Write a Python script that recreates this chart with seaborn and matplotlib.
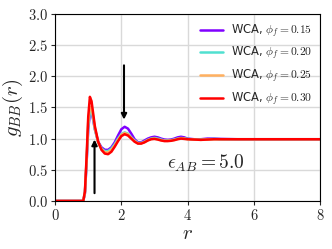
import matplotlib
matplotlib.use("Agg")
import matplotlib.pyplot as plt
import seaborn as sns
import pandas as pd
import numpy as np

# r grid shared by all curves
r = [0.0, 0.85, 0.9, 0.95, 1.0, 1.05, 1.1, 1.15, 1.2, 1.3, 1.4, 1.5, 1.6, 1.7,
     1.8, 1.9, 2.0, 2.1, 2.2, 2.3, 2.4, 2.5, 2.6, 2.7, 2.8, 2.9, 3.0, 3.1, 3.2,
     3.3, 3.4, 3.5, 3.6, 3.7, 3.8, 3.9, 4.0, 4.2, 4.4, 4.6, 4.8, 5.0, 5.5, 6.0,
     7.0, 8.0]

g_015 = [0.0, 0.0, 0.12, 0.6, 1.15, 1.4, 1.42, 1.3, 1.15, 0.95, 0.86, 0.82, 0.82,
         0.86, 0.94, 1.05, 1.15, 1.19, 1.16, 1.08, 0.99, 0.94, 0.94, 0.97, 1.0,
         1.02, 1.03, 1.02, 1.0, 0.985, 0.98, 0.985, 1.0, 1.02, 1.03, 1.02, 1.0,
         0.99, 0.99, 1.0, 1.0, 0.995, 0.99, 0.99, 0.99, 0.99]
g_020 = [0.0, 0.0, 0.13, 0.63, 1.2, 1.43, 1.45, 1.32, 1.15, 0.94, 0.84, 0.8, 0.8,
         0.84, 0.91, 1.0, 1.07, 1.1, 1.08, 1.02, 0.97, 0.93, 0.93, 0.95, 0.98,
         1.0, 1.01, 1.0, 0.985, 0.97, 0.97, 0.975, 0.985, 1.0, 1.01, 1.005, 0.995,
         0.985, 0.985, 0.99, 0.995, 0.99, 0.99, 0.99, 0.99, 0.99]
g_025 = [0.0, 0.0, 0.14, 0.66, 1.27, 1.51, 1.5, 1.35, 1.17, 0.94, 0.83, 0.78, 0.78,
         0.82, 0.89, 0.98, 1.06, 1.09, 1.07, 1.01, 0.96, 0.925, 0.925, 0.945,
         0.975, 0.995, 1.0, 0.99, 0.975, 0.965, 0.965, 0.97, 0.98, 0.995, 1.005,
         1.0, 0.99, 0.985, 0.98, 0.985, 0.99, 0.99, 0.99, 0.99, 0.99, 0.99]
g_030 = [0.0, 0.0, 0.15, 0.7, 1.35, 1.67, 1.6, 1.4, 1.2, 0.95, 0.82, 0.76, 0.75,
         0.79, 0.87, 0.96, 1.04, 1.07, 1.05, 1.0, 0.95, 0.92, 0.92, 0.94, 0.97,
         0.99, 0.995, 0.985, 0.97, 0.96, 0.96, 0.965, 0.975, 0.99, 1.0, 0.995,
         0.99, 0.985, 0.98, 0.985, 0.99, 0.99, 0.99, 0.99, 0.99, 0.99]

labels = [r"WCA, $\phi_f = 0.15$", r"WCA, $\phi_f = 0.20$",
          r"WCA, $\phi_f = 0.25$", r"WCA, $\phi_f = 0.30$"]
colors = ["#8000ff", "#50e0d0", "#ffb060", "#ff0000"]

xticks = [0, 2, 4, 6, 8]
yticks = [0.0, 0.5, 1.0, 1.5, 2.0, 2.5, 3.0]

df = pd.concat([pd.DataFrame({"r": r, "g": g, "label": lab})
                for g, lab in zip([g_015, g_020, g_025, g_030], labels)],
               ignore_index=True)

sns.set_style("ticks")
plt.rcParams["mathtext.fontset"] = "cm"
plt.rcParams["font.family"] = ["DejaVu Sans"]

fig = plt.figure(figsize=(3.32, 2.49), dpi=100)
ax = fig.add_axes([0.166, 0.193, 0.798, 0.751])

sns.lineplot(data=df, x="r", y="g", hue="label", palette=dict(zip(labels, colors)),
             linewidth=1.8, ax=ax, sort=False)

ax.grid(True, color="#d9d9d9", linewidth=1.0)
ax.set_axisbelow(True)
ax.set_xlim(0, 8)
ax.set_ylim(0, 3)
ax.set_xticks(xticks)
ax.set_xticklabels([f"${t}$" for t in xticks], fontsize=10.5)
ax.set_yticks(yticks)
ax.set_yticklabels([f"${t:.1f}$" for t in yticks], fontsize=10.5)
ax.tick_params(length=3, width=0.8, pad=2)
for s in ax.spines.values():
    s.set_linewidth(0.8)
    s.set_color("black")

ax.set_xlabel(r"$r$", fontsize=15, labelpad=0)
ax.set_ylabel(r"$g_{BB}(r)$", fontsize=15, labelpad=2)

# arrows marking the peak trends
ax.annotate("", xy=(1.19, 1.03), xytext=(1.19, 0.08),
            arrowprops=dict(arrowstyle="-|>", color="black", lw=1.5, mutation_scale=8))
ax.annotate("", xy=(2.08, 1.26), xytext=(2.08, 2.22),
            arrowprops=dict(arrowstyle="-|>", color="black", lw=1.5, mutation_scale=8))

ax.text(3.38, 0.6, r"$\epsilon_{AB} = 5.0$", fontsize=14, va="center")

ax.legend(loc="upper right", frameon=False, fontsize=8.3, handlelength=2.0,
          borderaxespad=0.3, labelspacing=0.45, handletextpad=0.7)

fig.savefig("out.png", dpi=100)
